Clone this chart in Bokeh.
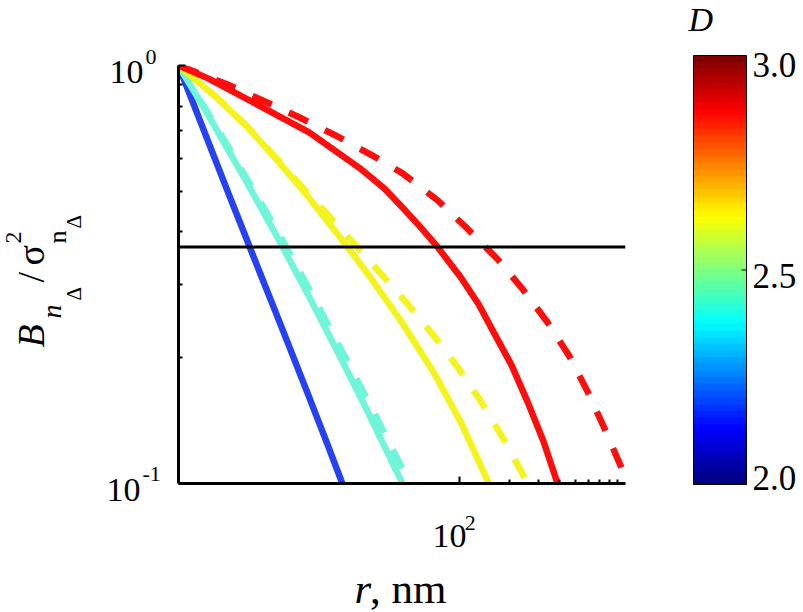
import numpy as np
from bokeh.plotting import figure
from bokeh.models import Range1d, FixedTicker, Span, Label, LinearColorMapper
from bokeh.layouts import row, column
from bokeh.embed import file_html
from bokeh.resources import INLINE

FONT = "Liberation Serif"

# ---------------- data ----------------
blue_r = [2.0, 4.0, 6.0, 8.0, 12.0, 16.0, 19.5]
blue_B = [1.0, 0.495, 0.33, 0.248, 0.165, 0.123, 0.1]

cyan_r = [2.0, 3.0, 5.0, 8.0, 12.0, 18.0, 27.0, 36.0, 45.0]
cyan_B = [1.0, 0.765, 0.538, 0.385, 0.285, 0.209, 0.152, 0.120, 0.1]
cyan_dash_r = [2.0, 3.05, 5.15, 8.4, 12.7, 19.2, 29.3, 39.5, 50.0]
cyan_dash_B = [1.0, 0.765, 0.538, 0.385, 0.285, 0.209, 0.152, 0.120, 0.1]

yellow_r = [2.0, 3.3, 5.22, 8.0, 11.75, 19.9, 28.2, 44.0, 69.7, 101.4, 149.6]
yellow_B = [1.0, 0.847, 0.712, 0.590, 0.493, 0.378, 0.315, 0.245, 0.184, 0.140, 0.1]
yellow_dash_r = [2.0, 3.31, 5.25, 7.39, 10.66, 15.9, 22.9, 33.3, 48.3, 70.0, 96.8, 137.0, 185.0, 257.0]
yellow_dash_B = [1.0, 0.847, 0.713, 0.614, 0.522, 0.440, 0.375, 0.318, 0.269, 0.225, 0.190, 0.155, 0.127, 0.1]

red_r = [2.0, 3.06, 6.14, 12.3, 24.7, 35.0, 45.6, 58.0, 73.3, 101.4, 130.0, 161.0, 205.0, 256.0, 320.0, 389.0]
red_B = [1.0, 0.929, 0.802, 0.692, 0.569, 0.508, 0.455, 0.410, 0.368, 0.311, 0.268, 0.229, 0.192, 0.157, 0.126, 0.1]
red_dash_r = [2.0, 3.86, 6.44, 10.7, 17.8, 29.7, 45.1, 73.3, 111.0, 169.0, 239.0, 338.0, 457.0, 590.0, 743.0, 937.0, 1000.0]
red_dash_B = [1.0, 0.904, 0.825, 0.752, 0.680, 0.609, 0.552, 0.476, 0.407, 0.344, 0.292, 0.243, 0.202, 0.166, 0.136, 0.110, 0.103]

threshold = float(np.exp(-1.0))  # horizontal reference line at 1/e

x_major = [100]
x_minor = [200, 300, 400, 500, 600, 700, 800, 900]
y_major = [0.1, 1.0]
y_minor = [0.2, 0.3, 0.4, 0.5, 0.6, 0.7, 0.8, 0.9]

D_low, D_high = 2.0, 3.0
cbar_ticks = [2.0, 2.5, 3.0]
cbar_labels = ["2.0", "2.5", "3.0"]

# ---------------- colours ----------------
BLUE = "#2641f2"
CYAN = "#6ff5d9"
YELLOW = "#f4f41c"
RED = "#fe0d0d"


def jet(n=64):
    out = []
    for t in np.linspace(0, 1, n):
        r = np.clip(min(4 * t - 1.5, -4 * t + 4.5), 0, 1)
        g = np.clip(min(4 * t - 0.5, -4 * t + 3.5), 0, 1)
        b = np.clip(min(4 * t + 0.5, -4 * t + 2.5), 0, 1)
        out.append("#%02x%02x%02x" % (int(round(r * 255)), int(round(g * 255)), int(round(b * 255))))
    return out


JET = jet(64)


def lab(fig, text, size, style="normal", **kw):
    fig.add_layout(Label(text=text, text_font=FONT, text_font_size=size,
                         text_font_style=style, text_color="black",
                         text_baseline="middle", **kw))


def text_fig(ox, oy, w, h, y_range=None):
    """A figure whose frame is its whole canvas; x in page pixels, y = -page pixels."""
    f = figure(width=w, height=h, x_range=Range1d(ox, ox + w),
               y_range=y_range if y_range is not None else Range1d(-(oy + h), -oy),
               x_axis_location=None, y_axis_location=None, min_border=0,
               toolbar_location=None, output_backend="svg")
    f.outline_line_color = None
    f.grid.visible = False
    f.background_fill_color = "white"
    f.border_fill_color = "white"
    return f


# ---------------- main plot ----------------
FL, FT, FW, FH = 178, 65, 447, 418   # frame left/top/width/height in page px
p = figure(width=10 + FW + 10, height=FT + FH + 10, x_axis_type="log", y_axis_type="log",
           x_range=Range1d(2, 1000), y_range=Range1d(0.1, 1.0),
           output_backend="svg", toolbar_location=None,
           min_border_left=10, min_border_right=10, min_border_top=FT, min_border_bottom=10)
p.grid.visible = False
p.outline_line_color = None
p.background_fill_color = "white"
p.border_fill_color = "white"

for ax in (p.xaxis[0], p.yaxis[0]):
    ax.axis_line_width = 3
    ax.axis_line_color = "black"
    ax.major_tick_in = 7
    ax.major_tick_out = 0
    ax.minor_tick_in = 4
    ax.minor_tick_out = 0
    ax.major_tick_line_width = 2
    ax.minor_tick_line_width = 2
    ax.major_label_text_font_size = "1px"
    ax.major_label_text_color = None
    ax.major_label_standoff = 0
p.xaxis[0].ticker = FixedTicker(ticks=x_major, minor_ticks=x_minor)
p.yaxis[0].ticker = FixedTicker(ticks=y_major, minor_ticks=y_minor)

LW = 6.5
DASH = "21 19"
p.line(blue_r, blue_B, line_color=BLUE, line_width=LW)
p.line(cyan_r, cyan_B, line_color=CYAN, line_width=LW)
p.line(cyan_dash_r, cyan_dash_B, line_color=CYAN, line_width=LW, line_dash=DASH)
p.line(yellow_r, yellow_B, line_color=YELLOW, line_width=LW)
p.line(yellow_dash_r, yellow_dash_B, line_color=YELLOW, line_width=LW, line_dash=DASH)
p.line(red_r, red_B, line_color=RED, line_width=LW)
p.line(red_dash_r, red_dash_B, line_color=RED, line_width=LW, line_dash=DASH)

p.add_layout(Span(location=threshold, dimension="width", line_color="black", line_width=3))

# ---------------- left text panel: y tick labels + y title ----------------
L = text_fig(0, 0, FL - 10, 612)
TS, SS = "34px", "22px"
lab(L, "10", TS, x=143, y=-71, text_align="right")
lab(L, "0", SS, x=145, y=-56, text_align="left")
lab(L, "10", TS, x=140, y=-489, text_align="right")
lab(L, "-1", SS, x=142, y=-473, text_align="left")

# rotated pieces: (text, centre-line x, start y, size, style)
ypieces = [
    ("B", 30, 347, "38px", "italic"),
    ("n", 51, 318, "28px", "italic"),
    ("\u0394", 73, 300, "21px", "normal"),
    ("/", 30, 282, "38px", "normal"),
    ("\u03c3", 30, 265, "38px", "normal"),
    ("2", 13, 243, "24px", "normal"),
    ("n", 57, 243, "26px", "normal"),
    ("\u0394", 73, 228, "21px", "normal"),
]
for t, bx, by, sz, st in ypieces:
    lab(L, t, sz, st, x=bx, y=-by, angle=np.pi / 2, text_align="left")

# ---------------- bottom text panel: x tick label + x title ----------------
BOT_TOP = FT + FH + 10
Bp = text_fig(FL - 10, BOT_TOP, 10 + FW + 10, 612 - BOT_TOP)
lab(Bp, "10", TS, x=451, y=-535, text_align="center")
lab(Bp, "2", SS, x=467, y=-522, text_align="left")
lab(Bp, "r", "43px", "italic", x=352, y=-588, text_align="left")
lab(Bp, ", nm", "43px", x=368, y=-588, text_align="left")

# ---------------- colour bar panel ----------------
CB_L, CB_R, CB_T, CB_B = 693, 746, 55, 484   # page px of the bar
ppd = (CB_B - CB_T) / (D_high - D_low)       # pixels per unit of D
C_X0 = FL + FW + 10
C = text_fig(C_X0, 0, 803 - C_X0, 612,
             y_range=Range1d(D_low - (612 - CB_B) / ppd, D_high + CB_T / ppd))
mapper = LinearColorMapper(palette=JET, low=D_low, high=D_high)
levels = np.linspace(D_low, D_high, len(JET)).reshape(len(JET), 1)
C.image(image=[levels], x=CB_L, y=D_low, dw=CB_R - CB_L, dh=D_high - D_low, color_mapper=mapper)
C.quad(left=[CB_L], right=[CB_R], bottom=[D_low], top=[D_high],
       fill_color=None, line_color="black", line_width=1)
C.segment(x0=[CB_R - 5], x1=[CB_R], y0=[cbar_ticks[1]], y1=[cbar_ticks[1]],
          line_color="black", line_width=1)
cb_offsets = [6.5, -5.5, -9.0]
for v, t, off in zip(cbar_ticks, cbar_labels, cb_offsets):
    lab(C, t, "35px", x=CB_R + 6, y=v, y_offset=off, text_align="left")
lab(C, "D", "34px", "italic", x=CB_L - 5, y=D_high, y_offset=36, text_align="left")

layout = row(L, column(p, Bp), C)
open("out.html", "w").write(file_html(layout, INLINE))
